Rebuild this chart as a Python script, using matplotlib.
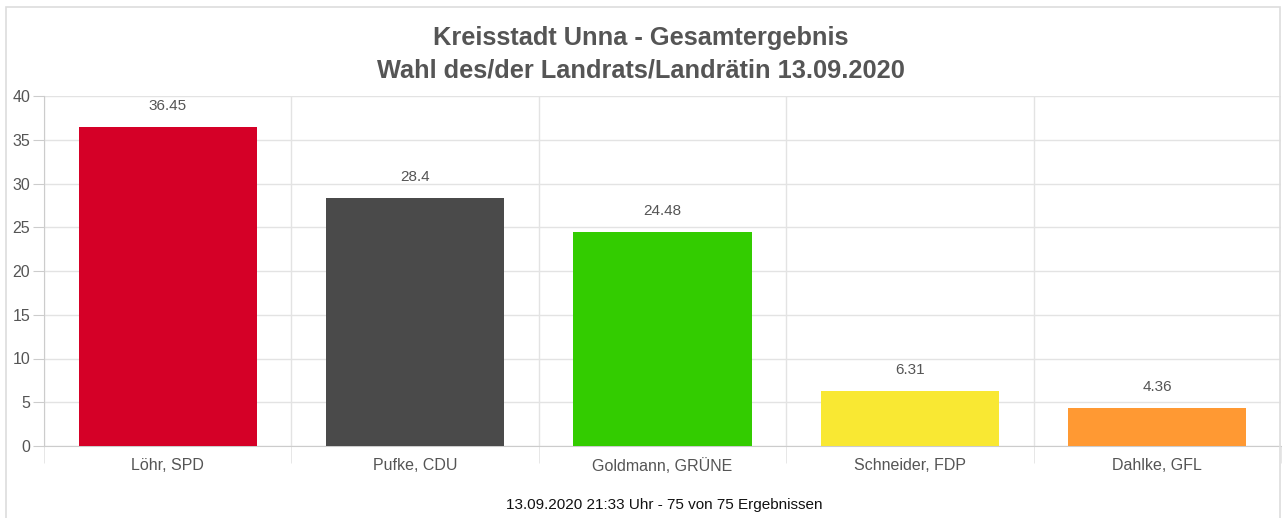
import matplotlib.pyplot as plt
from matplotlib.patches import Rectangle

kandidaten = ["Löhr, SPD", "Pufke, CDU", "Goldmann, GRÜNE", "Schneider, FDP", "Dahlke, GFL"]
prozente = [36.45, 28.4, 24.48, 6.31, 4.36]
farben = ["#D50027", "#4A4A4A", "#33CC00", "#F9E833", "#FF9933"]
yticks = [0, 5, 10, 15, 20, 25, 30, 35, 40]

plt.rcParams['font.family'] = ['Liberation Sans', 'DejaVu Sans']

fig = plt.figure(figsize=(12.82, 5.18), dpi=100)
fig.patches.append(Rectangle((6/1282, -0.01), 1274/1282, 1 - 7/518 + 0.01,
                             transform=fig.transFigure, fill=False,
                             edgecolor="#DDDDDD", linewidth=1.2))

ax = fig.add_axes([44/1282, 1 - 446/518, 1237/1282, 350/518])
x = range(len(kandidaten))
ax.bar(x, prozente, width=0.72, color=farben, zorder=3)
for i, v in enumerate(prozente):
    ax.annotate(f"{v:g}", (i, v), xytext=(0, 15), textcoords="offset points",
                ha="center", va="center", fontsize=11, color="#555555")

ax.set_xlim(-0.5, len(kandidaten) - 0.5)
ax.set_ylim(0, 40)
ax.set_yticks(yticks)
ax.set_xticks(list(x))
ax.set_xticklabels(kandidaten)
ax.set_xticks([i - 0.5 for i in range(len(kandidaten) + 1)], minor=True)
ax.grid(axis="y", color="#E3E3E3", linewidth=1, zorder=0)
ax.grid(axis="x", which="minor", color="#E3E3E3", linewidth=1, zorder=0)
ax.tick_params(axis="x", which="major", length=0, pad=9, labelsize=11.5, labelcolor="#555555")
ax.tick_params(axis="x", which="minor", length=12, color="#E3E3E3")
ax.tick_params(axis="y", length=8, color="#CCCCCC", labelsize=11.5, labelcolor="#555555", pad=2)
for s in ["top", "right"]:
    ax.spines[s].set_visible(False)
ax.spines["left"].set_color("#CCCCCC")
ax.spines["bottom"].set_color("#CCCCCC")

fig.text(0.5, 1 - 38/518, "Kreisstadt Unna - Gesamtergebnis", ha="center", va="center",
         fontsize=18.3, fontweight="bold", color="#555555")
fig.text(0.5, 1 - 70/518, "Wahl des/der Landrats/Landrätin 13.09.2020", ha="center", va="center",
         fontsize=18.3, fontweight="bold", color="#555555")
fig.text(664/1282, 1 - 505/518, "13.09.2020 21:33 Uhr - 75 von 75 Ergebnissen", ha="center",
         va="center", fontsize=11, color="#111111")

fig.savefig("out.png", dpi=100)
